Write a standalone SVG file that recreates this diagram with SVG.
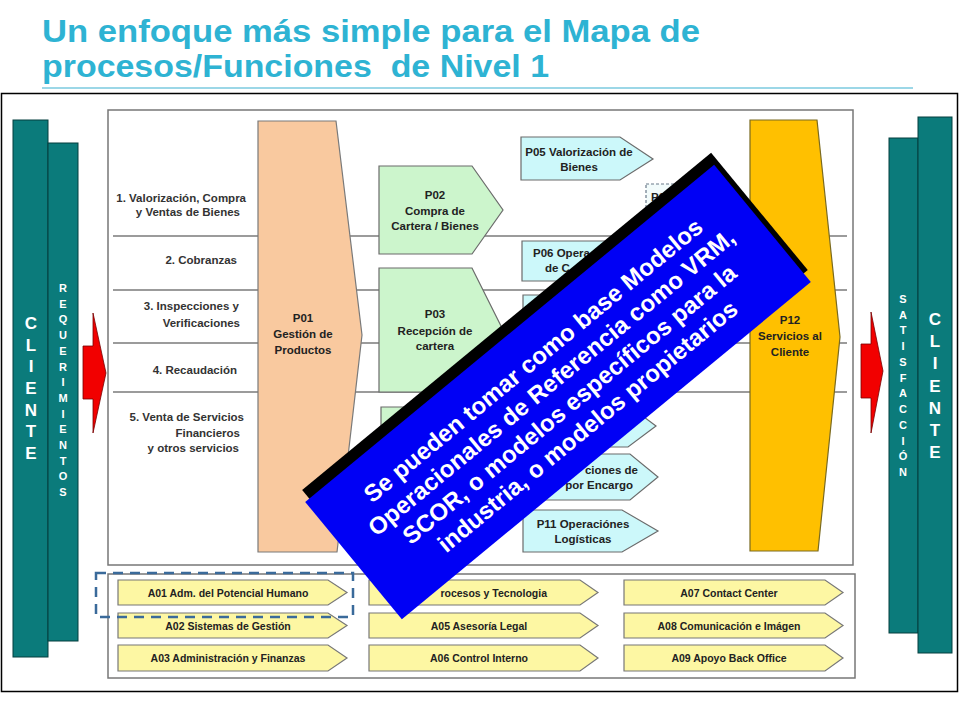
<svg xmlns="http://www.w3.org/2000/svg" width="960" height="720" viewBox="0 0 960 720">
<defs>
<style>
.t{font-family:"Liberation Sans",Arial,Helvetica,sans-serif;font-weight:bold}
.title{font-size:31px;fill:#2eb3d3}
.row{font-size:11.5px;fill:#333;text-anchor:end}
.pt{font-size:11.5px;fill:#222;text-anchor:middle}
.at{font-size:10.5px;fill:#222;text-anchor:middle}
.lane{stroke:#7a7a7a;stroke-width:1.5}
.box{fill:#fff;stroke:#777;stroke-width:1.5}
.green{fill:#ccf5cc;stroke:#6b6b6b;stroke-width:1.2}
.cyan{fill:#ccf8fa;stroke:#6b6b6b;stroke-width:1.2}
.ybox{fill:#fdf7a3;stroke:#777;stroke-width:1.2}
.bar{fill:#0b7b7b;stroke:#053f3f;stroke-width:1}
.barL{fill:#fff;font-size:17px;text-anchor:middle}
.barS{fill:#fff;font-size:11px;text-anchor:middle}
.red{fill:#f20000;stroke:#700;stroke-width:0.8}
.callt{fill:#fff;font-size:24px;text-anchor:middle}
</style>
</defs>
<rect width="960" height="720" fill="#fff"/>
<g id="title">
<text class="t title" x="42" y="42" textLength="658" lengthAdjust="spacingAndGlyphs">Un enfoque más simple para el Mapa de</text>
<text class="t title" x="42" y="77" textLength="507" lengthAdjust="spacingAndGlyphs" xml:space="preserve">procesos/Funciones  de Nivel 1</text>
<line x1="42" y1="88" x2="913" y2="88" stroke="#3ab0d0" stroke-width="1.2"/>
</g>
<rect x="1.5" y="93.5" width="956" height="598" fill="none" stroke="#000" stroke-width="1.5"/>

<g id="cliente-left">
<rect class="bar" x="13" y="120" width="35" height="537"/>
<text class="t barL"><tspan x="31" y="329">C</tspan><tspan x="31" y="351">L</tspan><tspan x="31" y="372">I</tspan><tspan x="31" y="394">E</tspan><tspan x="31" y="416">N</tspan><tspan x="31" y="437">T</tspan><tspan x="31" y="459">E</tspan></text>
</g>
<g id="requerimientos">
<rect class="bar" x="48" y="143" width="30" height="498"/>
<text class="t barS"><tspan x="63" y="292">R</tspan><tspan x="63" y="308">E</tspan><tspan x="63" y="323">Q</tspan><tspan x="63" y="339">U</tspan><tspan x="63" y="355">E</tspan><tspan x="63" y="371">R</tspan><tspan x="63" y="386">I</tspan><tspan x="63" y="402">M</tspan><tspan x="63" y="418">I</tspan><tspan x="63" y="433">E</tspan><tspan x="63" y="449">N</tspan><tspan x="63" y="465">T</tspan><tspan x="63" y="480">O</tspan><tspan x="63" y="496">S</tspan></text>
</g>
<g id="satisfaccion">
<rect class="bar" x="889" y="138" width="29" height="495"/>
<text class="t barS"><tspan x="903" y="303">S</tspan><tspan x="903" y="319">A</tspan><tspan x="903" y="334">T</tspan><tspan x="903" y="350">I</tspan><tspan x="903" y="366">S</tspan><tspan x="903" y="382">F</tspan><tspan x="903" y="397">A</tspan><tspan x="903" y="413">C</tspan><tspan x="903" y="429">C</tspan><tspan x="903" y="445">I</tspan><tspan x="903" y="460">Ó</tspan><tspan x="903" y="476">N</tspan></text>
</g>
<g id="cliente-right">
<rect class="bar" x="918" y="117" width="34" height="536"/>
<text class="t barL"><tspan x="935" y="325">C</tspan><tspan x="935" y="347">L</tspan><tspan x="935" y="369">I</tspan><tspan x="935" y="392">E</tspan><tspan x="935" y="414">N</tspan><tspan x="935" y="436">T</tspan><tspan x="935" y="458">E</tspan></text>
</g>

<g id="main-box">
<rect class="box" x="108" y="110" width="745" height="455"/>
</g>
<g id="lanes">
<line class="lane" x1="113" y1="236" x2="847" y2="236"/>
<line class="lane" x1="113" y1="290" x2="847" y2="290"/>
<line class="lane" x1="113" y1="343" x2="847" y2="343"/>
<line class="lane" x1="113" y1="392" x2="847" y2="392"/>
</g>
<g id="row-labels">
<text class="t row" x="246" y="202">1. Valorización, Compra</text>
<text class="t row" x="240" y="216">y Ventas de Bienes</text>
<text class="t row" x="237" y="264">2. Cobranzas</text>
<text class="t row" x="239" y="310">3. Inspecciones y</text>
<text class="t row" x="240" y="327">Verificaciones</text>
<text class="t row" x="237" y="374">4. Recaudación</text>
<text class="t row" x="244" y="421">5. Venta de Servicios</text>
<text class="t row" x="240" y="437">Financieros</text>
<text class="t row" x="239" y="452">y otros servicios</text>
</g>

<g id="P01">
<polygon points="258,121 336,121 362,335 337,552 258,552" fill="#f9c99f" stroke="#7a7a7a" stroke-width="1.2"/>
<text class="t pt" x="303" y="322">P01</text>
<text class="t pt" x="303" y="338">Gestión de</text>
<text class="t pt" x="303" y="354">Productos</text>
</g>
<g id="P02">
<polygon class="green" points="379,166 472,166 503,210 472,254 379,254"/>
<text class="t pt" x="435" y="199">P02</text>
<text class="t pt" x="435" y="215">Compra de</text>
<text class="t pt" x="435" y="230">Cartera / Bienes</text>
</g>
<g id="P03">
<polygon class="green" points="379,268 472,268 503,330 472,392 379,392"/>
<text class="t pt" x="435" y="318">P03</text>
<text class="t pt" x="435" y="335">Recepción de</text>
<text class="t pt" x="435" y="350">cartera</text>
</g>
<g id="P04">
<polygon class="green" points="381,407 472,407 503,450 472,493 381,493"/>
</g>
<g id="P05">
<polygon class="cyan" points="521,137 620,137 653,159 620,180 521,180"/>
<text class="t pt" x="579" y="156">P05 Valorización de</text>
<text class="t pt" x="579" y="171">Bienes</text>
</g>
<g id="P-dashed">
<rect x="646" y="184" width="78" height="44" fill="#f2fbfb" stroke="#6a7a8a" stroke-width="1.2" stroke-dasharray="3,2"/>
<text class="t" x="651" y="201" font-size="11.5" fill="#222">P0</text>
</g>
<g id="P06">
<polygon class="cyan" points="522,241 622,241 655,261 622,281 522,281"/>
<text class="t" x="533" y="257" font-size="11.5" fill="#222">P06 Opera</text>
<text class="t" x="545" y="272" font-size="11.5" fill="#222">de C</text>
</g>
<g id="P07">
<polygon class="cyan" points="523,295 622,295 655,316 622,337 523,337"/>
</g>
<g id="P09">
<polygon class="cyan" points="523,405 628,405 656,426 628,447 523,447"/>
</g>
<g id="P10">
<polygon class="cyan" points="523,454 630,454 658,477 630,500 523,500"/>
<text class="t" x="638" y="474" font-size="11.5" fill="#222" text-anchor="end">ciones de</text>
<text class="t" x="633" y="489" font-size="11.5" fill="#222" text-anchor="end">por Encargo</text>
</g>
<g id="P11">
<polygon class="cyan" points="523,510 622,510 658,531 622,552 523,552"/>
<text class="t pt" x="583" y="528">P11 Operaciónes</text>
<text class="t pt" x="583" y="543">Logísticas</text>
</g>
<g id="P12">
<polygon points="750,120 817,120 840,337 818,551 750,551" fill="#ffc000" stroke="#7a6a20" stroke-width="1.2"/>
<text class="t pt" x="790" y="324">P12</text>
<text class="t pt" x="790" y="340">Servicios al</text>
<text class="t pt" x="790" y="356">Cliente</text>
</g>

<g id="support-box">
<rect class="box" x="108" y="574" width="747" height="104"/>
</g>
<g id="A01"><polygon class="ybox" points="118,580 328,580 347,592.5 328,605 118,605"/><text class="t at" x="228" y="596.5">A01 Adm. del Potencial Humano</text></g>
<g id="A02"><polygon class="ybox" points="118,613 328,613 347,625.5 328,638 118,638"/><text class="t at" x="228" y="629.5">A02 Sistemas de Gestión</text></g>
<g id="A03"><polygon class="ybox" points="118,645 328,645 347,658 328,671 118,671"/><text class="t at" x="228" y="662">A03 Administración y Finanzas</text></g>
<g id="A04"><polygon class="ybox" points="369,580 580,580 598,592.5 580,605 369,605"/><text class="t" x="547" y="596.5" font-size="10.5" fill="#222" text-anchor="end">rocesos y Tecnologia</text></g>
<g id="A05"><polygon class="ybox" points="369,613 580,613 598,625.5 580,638 369,638"/><text class="t at" x="479" y="629.5">A05 Asesoría Legal</text></g>
<g id="A06"><polygon class="ybox" points="369,645 580,645 598,658 580,671 369,671"/><text class="t at" x="479" y="662">A06 Control Interno</text></g>
<g id="A07"><polygon class="ybox" points="624,580 825,580 843,592.5 825,605 624,605"/><text class="t at" x="729" y="596.5">A07 Contact Center</text></g>
<g id="A08"><polygon class="ybox" points="624,613 825,613 843,625.5 825,638 624,638"/><text class="t at" x="729" y="629.5">A08 Comunicación e Imágen</text></g>
<g id="A09"><polygon class="ybox" points="624,645 825,645 843,658 825,671 624,671"/><text class="t at" x="729" y="662">A09 Apoyo Back Office</text></g>
<g id="highlight">
<rect x="96" y="573" width="257" height="44" fill="none" stroke="#3a6a9a" stroke-width="2.5" stroke-dasharray="10,7"/>
</g>

<g id="connectors">
<polygon class="red" points="83,346 93,346 93,313 106,373 93,433 93,399 83,399"/>
<polygon class="red" points="861,344 871,344 871,312 883,371 871,433 871,398 861,398"/>
</g>

<g id="callout" transform="translate(558,392) rotate(-39.5)">
<rect x="-259.7" y="-87.2" width="530" height="152" fill="#000"/>
<rect x="-265" y="-76" width="530" height="152" fill="#0000f5"/>
<text class="t callt" x="1" y="-32">Se pueden tomar como base Modelos</text>
<text class="t callt" x="1" y="-3.5">Operacionales de Referencia como VRM,</text>
<text class="t callt" x="1" y="25">SCOR, o modelos específicos para la</text>
<text class="t callt" x="1" y="53.5">industria, o modelos propietarios</text>
</g>
</svg>
